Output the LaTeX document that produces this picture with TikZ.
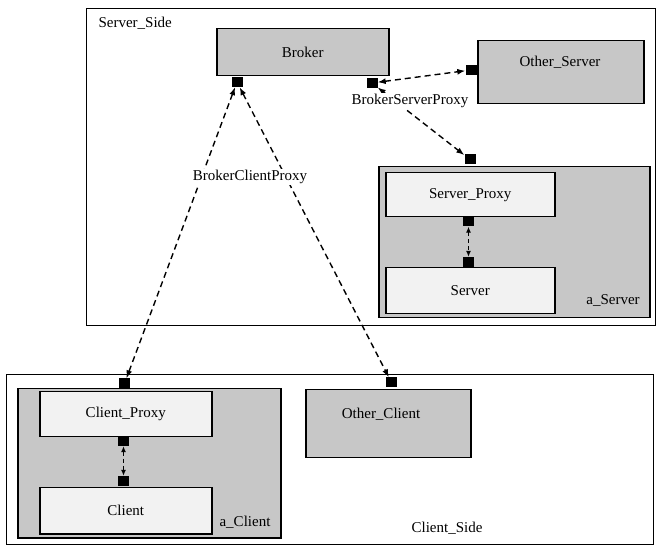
\documentclass[tikz,border=0pt]{standalone}
\usepackage{fontspec}
\setmainfont{Liberation Serif}
\usetikzlibrary{arrows.meta}
\begin{document}
\begin{tikzpicture}[x=1pt,y=-1pt,
  every node/.style={font=\fontsize{15}{18}\selectfont},
  frame/.style={draw=black, line width=1.2pt, fill=white, inner sep=0pt, anchor=north west},
  dense/.style={draw=black, line width=1.5pt, fill=black!22, inner sep=0pt, anchor=north west},
  sparse/.style={draw=black, line width=1.5pt, fill=black!5, inner sep=0pt, anchor=north west},
  port/.style={fill=black, inner sep=0pt, minimum width=11pt, minimum height=10pt},
  conn/.style={dash pattern=on 6pt off 4pt, line width=1.4pt, {Latex[length=8pt,width=6pt]}-{Latex[length=8pt,width=6pt]}},
  shortconn/.style={dash pattern=on 4pt off 3pt, line width=1.1pt, {Latex[length=6pt,width=5pt]}-{Latex[length=6pt,width=5pt]}},
  lbl/.style={fill=white, inner sep=1pt}
]
\useasboundingbox (0,0) rectangle (657,548);

% containers
\node[frame, minimum width=569pt, minimum height=317pt] (serverside) at (86,8) {};
\node[frame, minimum width=647pt, minimum height=170pt] (clientside) at (6,374) {};

% boxes in server side
\node[dense, minimum width=172pt, minimum height=47pt] (broker) at (216,28) {Broker};
\node[dense, minimum width=166pt, minimum height=63pt] (otherserver) at (477,40) {};
\node (oslbl) at (560,62) {Other\_Server};
\node[dense, minimum width=271pt, minimum height=151pt] (aserver) at (378,166) {};
\node[sparse, minimum width=169pt, minimum height=44pt] (serverproxy) at (385,172) {Server\_Proxy};
\node[sparse, minimum width=169pt, minimum height=46pt] (server) at (385,267) {Server};

% boxes in client side
\node[dense, minimum width=263pt, minimum height=149pt] (aclient) at (17,388) {};
\node[sparse, minimum width=172pt, minimum height=45pt] (clientproxy) at (39,391) {Client\_Proxy};
\node[sparse, minimum width=172pt, minimum height=46pt] (client) at (39,487) {Client};
\node[dense, minimum width=165pt, minimum height=68pt] (otherclient) at (305,389) {};
\node (oclbl) at (381,414) {Other\_Client};

% container labels
\node[anchor=west] (sslbl) at (95,23) {Server\_Side};
\node (aslbl) at (613,301) {a\_Server};
\node (aclbl) at (245,522) {a\_Client};
\node (cslbl) at (447,528) {Client\_Side};

% ports
\node[port] (bp1) at (237,82) {};
\node[port] (bp2) at (372,83) {};
\node[port] (osp) at (471,70) {};
\node[port] (asp) at (470,159.5) {};
\node[port] (spb) at (468.5,221.5) {};
\node[port] (svt) at (468.5,262) {};
\node[port] (acp) at (124.5,383.5) {};
\node[port] (cpb) at (123.5,441) {};
\node[port] (clt) at (123.5,481) {};
\node[port] (ocp) at (391.5,382.5) {};

% connectors
\draw[conn] (bp1) -- (acp);
\draw[conn] (bp1) -- (ocp);
\draw[conn] (bp2) -- (osp);
\draw[conn] (bp2) -- (asp);
\draw[shortconn] (spb) -- (svt);
\draw[shortconn] (cpb) -- (clt);

% connector labels
\node[lbl] (bsp) at (410,101) {BrokerServerProxy};
\node[lbl] (bcp) at (250,177) {BrokerClientProxy};
\end{tikzpicture}
\end{document}
